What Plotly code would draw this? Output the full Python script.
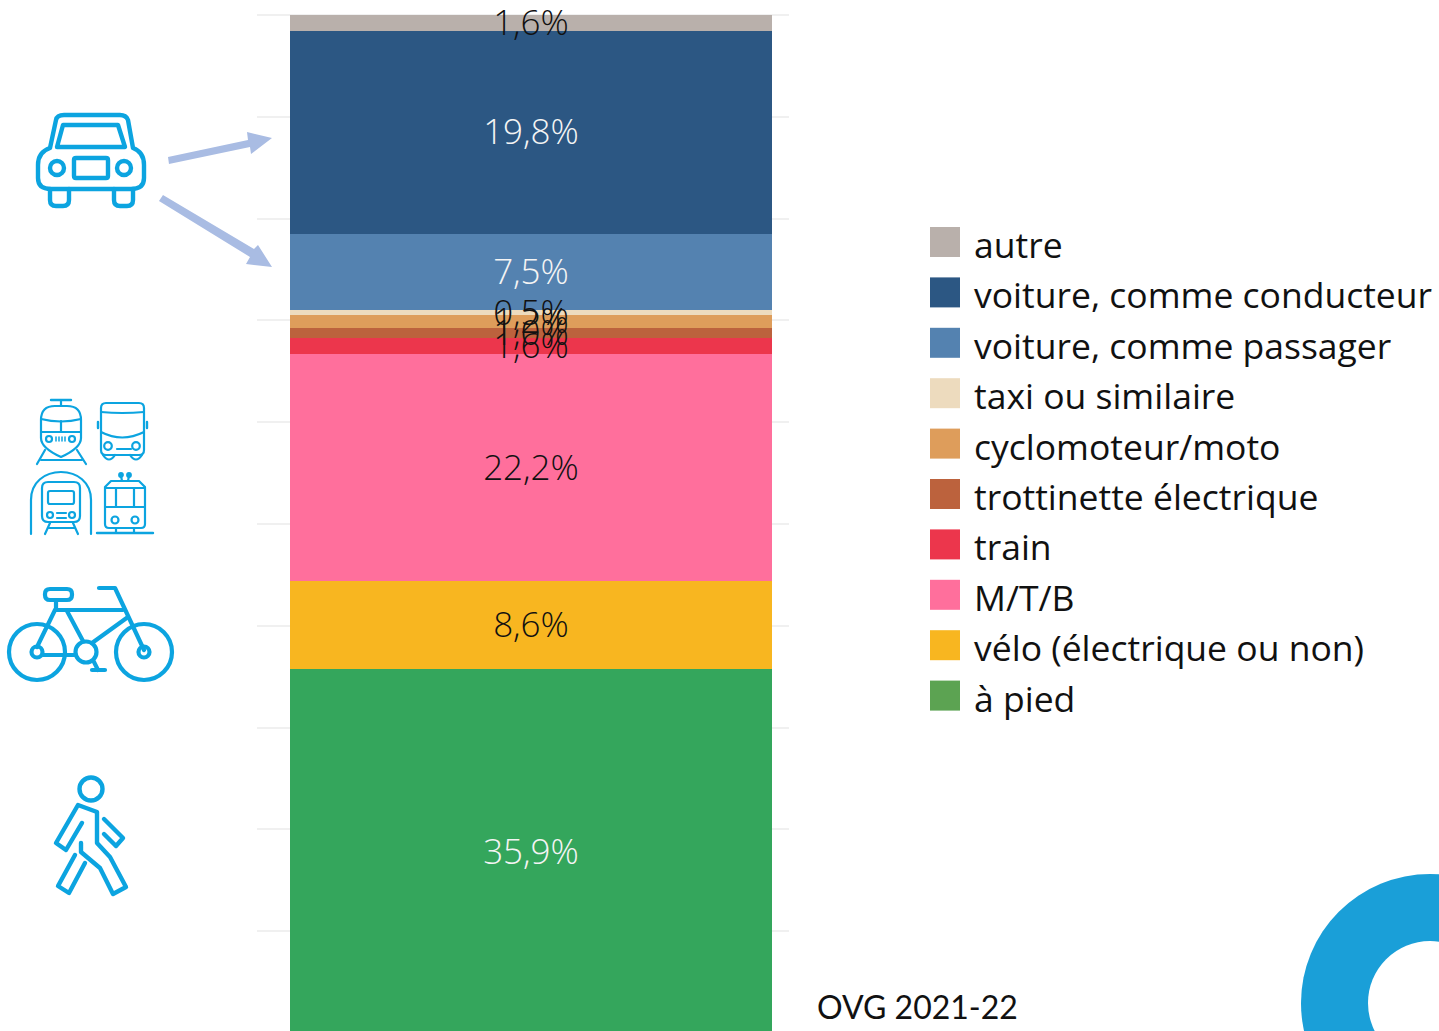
import plotly.graph_objects as go

WIDTH, HEIGHT = 1439, 1031

# ---- data, stacked from the bottom of the bar to the top ----
categories = ["à pied", "vélo (électrique ou non)", "M/T/B", "train", "trottinette électrique",
              "cyclomoteur/moto", "taxi ou similaire", "voiture, comme passager",
              "voiture, comme conducteur", "autre"]
values = [35.9, 8.6, 22.2, 1.6, 1.0, 1.2, 0.5, 7.5, 19.8, 1.6]
bar_colors = ["#34A65C", "#F8B620", "#FF6F9C", "#EC364C", "#BC623D",
              "#DE9D5B", "#EDDBBE", "#5482B0", "#2C5783", "#B9B0AB"]
legend_colors = ["#5CA352", "#F8B620", "#FF6F9C", "#EC364C", "#BC623D",
                 "#DE9D5B", "#EDDBBE", "#5482B0", "#2C5783", "#B9B0AB"]
label_colors = ["#F4F4F4", "#111111", "#111111", "#111111", "#111111",
                "#111111", "#111111", "#F4F4F4", "#F4F4F4", "#111111"]
source_note = "OVG 2021-22"

ICON = "#0CA4E0"
ARROW = "#A9BCE3"
LOGO = "#1A9FD8"

# ---- figure helpers: decorations are given in page pixels ----
def X(x): return x / WIDTH
def Y(y): return 1 - y / HEIGHT
def pt(p): return f"{X(p[0]):.5f},{Y(p[1]):.5f}"

shapes = []

def path(cmds, color=ICON, w=2.0, fill=None):
    parts = []
    for c in cmds:
        if isinstance(c, str):
            parts.append(c)
        else:
            parts.append(pt(c))
    shapes.append(dict(type="path", xref="paper", yref="paper", path=" ".join(parts),
                       line=dict(color=color, width=w), fillcolor=fill or "rgba(0,0,0,0)", layer="above"))

def poly(points, color=ICON, w=2.0, close=False, fill=None):
    cmds = ["M", points[0]]
    for p in points[1:]:
        cmds += ["L", p]
    if close:
        cmds.append("Z")
    path(cmds, color, w, fill)

def circle(cx, cy, r, color=ICON, w=2.0, fill=None):
    shapes.append(dict(type="circle", xref="paper", yref="paper",
                       x0=X(cx - r), x1=X(cx + r), y0=Y(cy + r), y1=Y(cy - r),
                       line=dict(color=color, width=w), fillcolor=fill or "rgba(0,0,0,0)", layer="above"))

def rrect(x0, y0, x1, y1, r, color=ICON, w=2.0):
    path(["M", (x0 + r, y0), "L", (x1 - r, y0), "Q", (x1, y0), (x1, y0 + r),
          "L", (x1, y1 - r), "Q", (x1, y1), (x1 - r, y1),
          "L", (x0 + r, y1), "Q", (x0, y1), (x0, y1 - r),
          "L", (x0, y0 + r), "Q", (x0, y0), (x0 + r, y0), "Z"], color, w)

# ---- car ----
W = 4.4
path(["M", (50, 148), "L", (56, 120), "Q", (57, 115), (64, 115), "L", (120, 115), "Q", (126, 115), (128, 120),
      "L", (133, 148), "Q", (144, 152), (144, 165), "L", (144, 178), "Q", (144, 189), (131, 189),
      "L", (51, 189), "Q", (38, 189), (38, 178), "L", (38, 165), "Q", (38, 152), (50, 148), "Z"], w=W)
poly([(63, 125), (118, 125), (125, 147), (57, 147)], w=W, close=True)
circle(57, 168, 7, w=W)
circle(124, 168, 7, w=W)
rrect(74, 158, 108, 178, 2, w=W)
path(["M", (50, 189), "L", (50, 200), "Q", (50, 206), (56, 206), "L", (63, 206), "Q", (69, 206), (69, 200), "L", (69, 189)], w=W)
path(["M", (114, 189), "L", (114, 200), "Q", (114, 206), (120, 206), "L", (127, 206), "Q", (133, 206), (133, 200), "L", (133, 189)], w=W)

# ---- arrows ----
poly([(168, 157), (248, 140), (247, 132), (272, 138), (251, 154), (250, 147), (169, 164)],
     color=ARROW, w=0, close=True, fill=ARROW)
poly([(163, 195), (254, 249), (258, 245), (272, 267), (246, 264), (250, 257), (159, 201)],
     color=ARROW, w=0, close=True, fill=ARROW)

# ---- tram ----
T = 2.2
poly([(51, 400), (71, 400)], w=2.4)
poly([(61, 400), (61, 406)], w=T)
path(["M", (41, 420), "Q", (41, 406), (55, 406), "L", (67, 406), "Q", (81, 406), (81, 420),
      "L", (81, 438), "Q", (81, 448), (61, 457), "Q", (41, 448), (41, 438), "Z"], w=T)
path(["M", (41, 419), "Q", (61, 424), (81, 419)], w=T)
poly([(41, 432), (81, 432)], w=T)
poly([(61, 421), (61, 432)], w=T)
circle(49, 439, 3, w=T)
circle(72, 439, 3, w=T)
for dx in (56, 59, 62, 65):
    poly([(dx, 437), (dx, 441)], w=1.5)
poly([(45, 450), (37, 464)], w=T)
poly([(77, 450), (86, 464)], w=T)
poly([(41, 460), (82, 460)], w=T)

# ---- bus ----
rrect(101, 403, 144, 455, 5, w=T)
path(["M", (101, 412), "Q", (122, 414), (144, 412)], w=T)
path(["M", (101, 432), "Q", (122, 443), (144, 432)], w=T)
circle(108, 446, 3.8, w=T)
circle(136, 446, 3.8, w=T)
poly([(117, 449), (131, 449)], w=T)
path(["M", (103, 455), "Q", (109, 464), (115, 455)], w=T)
path(["M", (130, 455), "Q", (136, 464), (142, 455)], w=T)
poly([(98, 422), (98, 428)], w=2.4)
poly([(147, 422), (147, 428)], w=2.4)

# ---- metro ----
path(["M", (31, 534), "L", (31, 500), "C", (31, 482), (45, 472), (61, 472),
      "C", (77, 472), (91, 482), (91, 500), "L", (91, 534)], w=T)
rrect(42, 482, 80, 522, 6, w=T)
rrect(48, 491, 74, 504, 2, w=T)
circle(50, 515, 3, w=T)
circle(72, 515, 3, w=T)
poly([(57, 513), (66, 513)], w=T)
poly([(57, 518), (66, 518)], w=T)
poly([(50, 523), (45, 534)], w=T)
poly([(73, 523), (78, 534)], w=T)
poly([(48, 528), (75, 528)], w=T)

# ---- trolley ----
path(["M", (105, 487), "L", (111, 481), "L", (139, 481), "L", (145, 487), "L", (145, 524), "Q", (145, 528), (141, 528),
      "L", (109, 528), "Q", (105, 528), (105, 524), "Z"], w=T)
poly([(105, 488), (145, 488)], w=T)
poly([(105, 507), (145, 507)], w=T)
poly([(116, 488), (116, 507)], w=T)
poly([(134, 488), (134, 507)], w=T)
circle(115, 520, 3.5, w=T)
circle(135, 520, 3.5, w=T)
circle(121, 475, 1.8, w=T, fill=ICON)
circle(129, 475, 1.8, w=T, fill=ICON)
poly([(121, 476), (122, 481)], w=T)
poly([(129, 476), (128, 481)], w=T)
poly([(97, 533), (153, 533)], w=2.4)
poly([(116, 528), (116, 533)], w=T)
poly([(134, 528), (134, 533)], w=T)

# ---- bicycle ----
B = 4.2
circle(37, 652, 28, w=B)
circle(144, 652, 28, w=B)
circle(37, 652, 5.5, w=B)
circle(144, 652, 5.5, w=B)
circle(86, 652, 10.5, w=B)
rrect(45, 589, 72, 600, 5, w=B)
poly([(56, 600), (56, 610), (123, 610)], w=B)
poly([(99, 588), (115, 588), (144, 650)], w=B)
poly([(92, 643), (128, 617)], w=B)
poly([(67, 611), (83, 641)], w=B)
poly([(55, 610), (37, 647)], w=B)
poly([(43, 655), (75, 655)], w=B)
poly([(94, 662), (98, 670)], w=B)
poly([(92, 670), (105, 670)], w=B)

# ---- walker ----
P = 4.4
circle(91, 789, 11.5, w=P)
poly([(82, 823), (66, 850), (56, 843), (78, 805), (97, 812), (97, 843), (110, 857), (126, 887),
      (113, 894), (100, 868), (81, 852), (81, 843)], w=P)
poly([(75, 855), (58, 886), (69, 893), (85, 863)], w=P)
poly([(104, 819), (123, 838), (116, 846), (104, 834)], w=P)

# ---- logo ----
circle(1430, 1003, 129, color=LOGO, w=0, fill=LOGO)
circle(1430, 1003, 62, color="#FFFFFF", w=0, fill="#FFFFFF")

# ---- the bar (its own value axis) and the gridlines (the main one) ----
fig = go.Figure()
fig.add_trace(go.Scatter(x=[None], y=[None], showlegend=False, hoverinfo="skip"))
for cat, val, col in zip(categories, values, bar_colors):
    fig.add_trace(go.Bar(x=[0], y=[val], name=cat, width=[1], yaxis="y2",
                         marker=dict(color=col, line=dict(width=0)), showlegend=False))

# labels sit on top of every segment, as a text layer at each segment's middle
mids, running = [], 0.0
for val in values:
    mids.append(running + val / 2)
    running += val
fig.add_trace(go.Scatter(
    x=[0] * len(values), y=mids, yaxis="y3", mode="text", cliponaxis=False,
    text=[f"{v:.1f}%".replace(".", ",") for v in values], textposition="middle center",
    textfont=dict(family="Open Sans", size=35, color=label_colors, weight=300),
    showlegend=False, hoverinfo="skip"))

# ---- legend, drawn top to bottom in the reference's order ----
annotations = []
LEG_TOP, LEG_STEP = 242, 50.4
for i, (cat, col) in enumerate(zip(reversed(categories), reversed(legend_colors))):
    cy = LEG_TOP + i * LEG_STEP
    shapes.append(dict(type="rect", xref="paper", yref="paper",
                       x0=X(930), x1=X(960), y0=Y(cy + 15), y1=Y(cy - 15),
                       line=dict(width=0), fillcolor=col, layer="above"))
    annotations.append(dict(xref="paper", yref="paper", x=X(971.5), y=Y(cy + 2), xanchor="left", yanchor="middle",
                            text=cat, showarrow=False, font=dict(family="Open Sans", size=35.5, color="#111111")))

annotations.append(dict(xref="paper", yref="paper", x=X(815), y=Y(1006), xanchor="left", yanchor="middle",
                        text=source_note, showarrow=False, font=dict(family="Lato", size=32, color="#111111")))

fig.update_layout(
    width=WIDTH, height=HEIGHT, margin=dict(l=0, r=0, t=0, b=0),
    paper_bgcolor="white", plot_bgcolor="white", barmode="stack", bargap=0,
    shapes=shapes, annotations=annotations, showlegend=False,
    xaxis=dict(domain=[257 / WIDTH, 789 / WIDTH], range=[(257 - 531) / 482, (789 - 531) / 482],
               visible=False, fixedrange=True),
    yaxis=dict(domain=[0, 1], range=[0.2, 101.47], tickmode="linear", tick0=0, dtick=10,
               showgrid=True, gridcolor="#F0F0F0", gridwidth=1.5, zeroline=False,
               showticklabels=False, ticks="", showline=False, fixedrange=True),
    yaxis2=dict(overlaying="y", domain=[0, 1], range=[0.49, 101.37], visible=False, showgrid=False,
                fixedrange=True),
    yaxis3=dict(overlaying="y", domain=[0, 1], range=[0.79, 101.67], visible=False, showgrid=False,
                fixedrange=True),
)

fig.write_html(
    "out.html",
    post_script=("document.body.style.margin='0';document.body.style.overflow='hidden';"
                 "var s=document.createElement('style');"
                 "s.textContent='.shapelayer path{stroke-linecap:round;stroke-linejoin:round}';"
                 "document.head.appendChild(s);"),
    config=dict(displayModeBar=False))
